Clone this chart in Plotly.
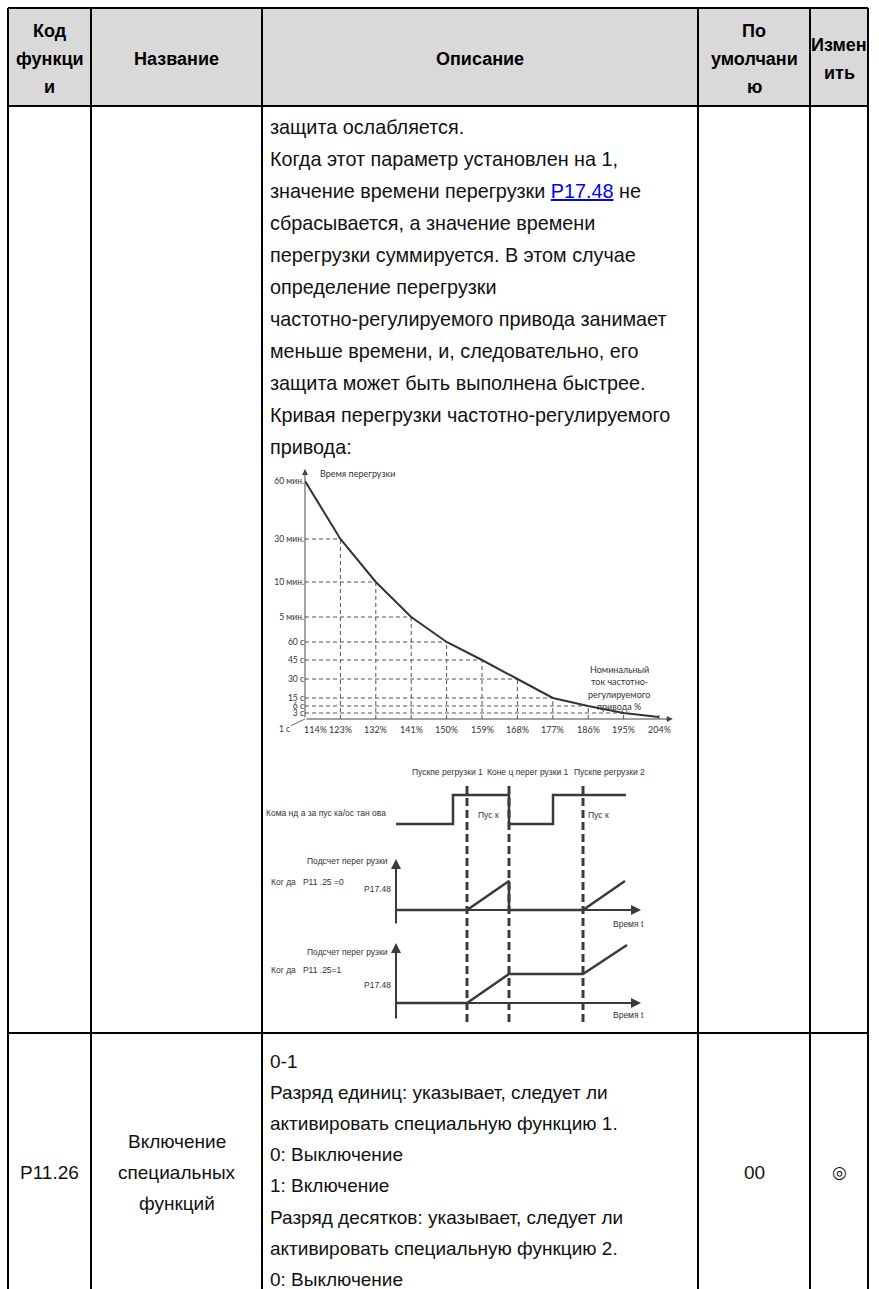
import plotly.graph_objects as go

W, H = 879, 1289

# ---- table content -------------------------------------------------------
col_edges = [8, 91, 262, 698, 810, 868]
row_edges = [8, 106, 1033]

header_cells = [
    ["Код", "функци", "и"],
    ["Название"],
    ["Описание"],
    ["По", "умолчани", "ю"],
    ["Измен", "ить"],
]

desc_row1 = [
    "защита ослабляется.",
    "Когда этот параметр установлен на 1,",
    "значение времени перегрузки <span style='color:#0000ff'><u>P17.48</u></span> не",
    "сбрасывается, а значение времени",
    "перегрузки суммируется. В этом случае",
    "определение перегрузки",
    "частотно-регулируемого привода занимает",
    "меньше времени, и, следовательно, его",
    "защита может быть выполнена быстрее.",
    "Кривая перегрузки частотно-регулируемого",
    "привода:",
]

row2_code = "P11.26"
row2_name = ["Включение", "специальных", "функций"]
row2_desc = [
    "0-1",
    "Разряд единиц: указывает, следует ли",
    "активировать специальную функцию 1.",
    "0: Выключение",
    "1: Включение",
    "Разряд десятков: указывает, следует ли",
    "активировать специальную функцию 2.",
    "0: Выключение",
]
row2_default = "00"
row2_change = "◎"

# ---- overload curve ------------------------------------------------------
overload_pct = [114, 123, 132, 141, 150, 159, 168, 177, 186, 195, 204]
overload_time = ["60 мин.", "30 мин.", "10 мин.", "5 мин.", "60 с", "45 с",
                 "30 с", "15 с", "6 с", "3 с", "1 с"]
# position of each time level on the drawn (non-uniform) time axis
overload_pos = [238, 180, 137, 102, 77, 59, 40, 21, 13, 6, 2]

# ---- timing diagram ------------------------------------------------------
cmd_t = [0, 5.7, 5.7, 11.3, 11.3, 15.7, 15.7, 23.0]
cmd_v = [0, 0, 1, 1, 0, 0, 1, 1]
count0_t = [0, 7.1, 11.3, 11.3, 18.7, 22.9]     # P11.25 = 0
count0_v = [0, 0, 1, 0, 0, 1]
count1_t = [0, 7.1, 11.3, 18.7, 23.1]           # P11.25 = 1
count1_v = [0, 0, 1, 1, 2]
event_t = [7.1, 11.3, 18.7]
event_names = ["Пускпе регрузки 1", "Коне ц перег рузки 1", "Пускпе регрузки 2"]

LANE_CMD, LANE_A, LANE_B = 6.172, 3.207, 0.0

BODY = "Liberation Sans, Arial, sans-serif"
SMALL = "Lato, Open Sans, sans-serif"


def fx(x):
    return x / W


def fy(y):
    return 1 - y / H


fig = go.Figure()
shapes = []
ann = []


def text(x, y, s, size=19, anchor="left", bold=False, family=BODY, color="#111"):
    ann.append(dict(x=fx(x), y=fy(y), xref="paper", yref="paper", text=f"<b>{s}</b>" if bold else s,
                    showarrow=False, xanchor=anchor, yanchor="middle",
                    font=dict(family=family, size=size, color=color)))


# header background
shapes.append(dict(type="rect", xref="paper", yref="paper", x0=fx(8), x1=fx(868),
                   y0=fy(106), y1=fy(8), fillcolor="#d9d9d9", line_width=0, layer="below"))
# grid
for x in col_edges:
    shapes.append(dict(type="line", xref="paper", yref="paper", x0=fx(x), x1=fx(x),
                       y0=fy(8), y1=fy(H + 5), line=dict(color="black", width=2)))
for y in row_edges:
    shapes.append(dict(type="line", xref="paper", yref="paper", x0=fx(8), x1=fx(868),
                       y0=fy(y), y1=fy(y), line=dict(color="black", width=2)))

# header text
for i, lines in enumerate(header_cells):
    cx = (col_edges[i] + col_edges[i + 1]) / 2
    n = len(lines)
    y0 = 59 - (n - 1) * 28 / 2
    for j, s in enumerate(lines):
        text(cx, y0 + j * 28, s, size=18, anchor="center", bold=True, color="#000")

# row 1
for i, s in enumerate(desc_row1):
    text(268, 127 + 32 * i, s, size=19.8)

# row 2
text(49.5, 1172, row2_code, anchor="center")
for i, s in enumerate(row2_name):
    text(176.5, 1141 + 31 * i, s, anchor="center")
for i, s in enumerate(row2_desc):
    text(268, 1061 + 31.2 * i, s)
text(754, 1172, row2_default, anchor="center")
text(839, 1172, row2_change, anchor="center", size=17, family="DejaVu Sans")

# ---- overload chart traces ----------------------------------------------
gx, gy = [], []
for p, v in zip(overload_pct[1:-1], overload_pos[1:-1]):
    gx += [overload_pct[0], p, None, p, p, None]
    gy += [v, v, None, 0, v, None]
fig.add_trace(go.Scatter(x=gx, y=gy, mode="lines", xaxis="x", yaxis="y",
                         line=dict(color="#555", width=1, dash="4px,3px"), hoverinfo="skip"))
fig.add_trace(go.Scatter(x=[overload_pct[-1], overload_pct[-1]], y=[0, overload_pos[-1] + 2],
                         mode="lines", line=dict(color="#555", width=1), hoverinfo="skip"))
fig.add_trace(go.Scatter(x=overload_pct, y=overload_pos, mode="lines", xaxis="x", yaxis="y",
                         line=dict(color="#333", width=2), hoverinfo="skip"))

# x tick labels (the first one sits right of the vertical axis)
for p in overload_pct:
    ann.append(dict(x=p, y=0, xref="x", yref="y", text=f"{p}%", showarrow=False,
                    xanchor="center", yanchor="middle", yshift=-11,
                    xshift=10 if p == overload_pct[0] else 0,
                    font=dict(family=SMALL, size=9, color="#333")))

# axis arrows
for hx, hy in [(114, 250), (207.5, 0)]:
    ann.append(dict(x=hx, y=hy, ax=114, ay=0, xref="x", yref="y", axref="x", ayref="y",
                    text="", showarrow=True, arrowhead=2, arrowsize=1.2, arrowwidth=1,
                    arrowcolor="#444"))
ann.append(dict(x=114, y=0, xref="x", yref="y", ax=-21, ay=10, text=overload_time[-1],
                showarrow=True, arrowhead=0, arrowwidth=0.8, arrowcolor="#444",
                font=dict(family=SMALL, size=8.5, color="#333")))
text(318, 473, "Время перегрузки", size=9, family=SMALL, color="#333")
for i, s in enumerate(["Номинальный", "ток частотно-", "регулируемого", "привода %"]):
    text(619, 669 + 12.6 * i, s, size=9, anchor="center", family=SMALL, color="#333")

# ---- timing diagram traces ----------------------------------------------
tl = dict(color="#3a3a3a", width=2.5)
fig.add_trace(go.Scatter(x=cmd_t, y=[v + LANE_CMD for v in cmd_v], mode="lines",
                         xaxis="x2", yaxis="y2", line=tl, hoverinfo="skip"))
fig.add_trace(go.Scatter(x=count0_t, y=[v + LANE_A for v in count0_v], mode="lines",
                         xaxis="x2", yaxis="y2", line=tl, hoverinfo="skip"))
fig.add_trace(go.Scatter(x=count1_t, y=[v + LANE_B for v in count1_v], mode="lines",
                         xaxis="x2", yaxis="y2", line=tl, hoverinfo="skip"))
ex, ey = [], []
for t in event_t:
    ex += [t, t, None]
    ey += [-0.655, 7.586, None]
fig.add_trace(go.Scatter(x=ex, y=ey, mode="lines", xaxis="x2", yaxis="y2",
                         line=dict(color="#3a3a3a", width=3, dash="8px,4px"), hoverinfo="skip"))

for lane, lo, hi in [(LANE_A, -0.517, 1.759), (LANE_B, -0.586, 2.069)]:
    ann.append(dict(x=0, y=lane + hi, ax=0, ay=lane + lo, xref="x2", yref="y2", axref="x2",
                    ayref="y2", text="", showarrow=True, arrowhead=2, arrowsize=1,
                    arrowwidth=2, arrowcolor="#3a3a3a"))
    ann.append(dict(x=24.5, y=lane, ax=0, ay=lane, xref="x2", yref="y2", axref="x2",
                    ayref="y2", text="", showarrow=True, arrowhead=2, arrowsize=1,
                    arrowwidth=2, arrowcolor="#3a3a3a"))

for name, cx in zip(event_names, [447, 528, 609]):
    text(cx, 772, name, size=8.5, anchor="center", color="#333")
text(264, 813, "Кома нд а за пус ка/ос тан ова", size=8.5, color="#333")
text(488, 815, "Пус к", size=8.5, anchor="center", color="#333")
text(598, 815, "Пус к", size=8.5, anchor="center", color="#333")
for yl, ylab, yp, yv, cond in [(861, 882, 889, 924, "Ког да   P11 .25 =0"),
                               (952, 970, 985, 1015, "Ког да   P11 .25=1")]:
    text(390, yl, "Подсчет перег рузки", size=8.5, anchor="right", color="#333")
    text(269, ylab, cond, size=8.5, color="#333")
    text(393, yp, "P17.48", size=8.5, anchor="right", color="#333")
    text(628, yv, "Время t", size=8.5, anchor="center", color="#333")

fig.update_layout(
    width=W, height=H, margin=dict(l=0, r=0, t=0, b=0), autosize=False,
    paper_bgcolor="white", plot_bgcolor="rgba(0,0,0,0)", showlegend=False,
    hovermode=False, shapes=shapes, annotations=ann,
    xaxis=dict(domain=[fx(305), fx(673)], range=[114, 207.56], anchor="y",
               showticklabels=False, ticks="", showgrid=False, zeroline=False, showline=False),
    yaxis=dict(domain=[fy(719), fy(469)], range=[0, 250], anchor="x",
               tickvals=overload_pos[:-1], ticktext=overload_time[:-1],
               ticks="", showgrid=False, zeroline=False, showline=False,
               tickfont=dict(family=SMALL, size=8.5, color="#333")),
    xaxis2=dict(domain=[fx(260), fx(700)], range=[-13.6, 30.4], anchor="y2", visible=False),
    yaxis2=dict(domain=[fy(1030), fy(760)], range=[-0.931, 8.379], anchor="x2", visible=False),
)

fig.write_html("out.html", config={"displayModeBar": False},
               post_script="document.body.style.margin='0';")
